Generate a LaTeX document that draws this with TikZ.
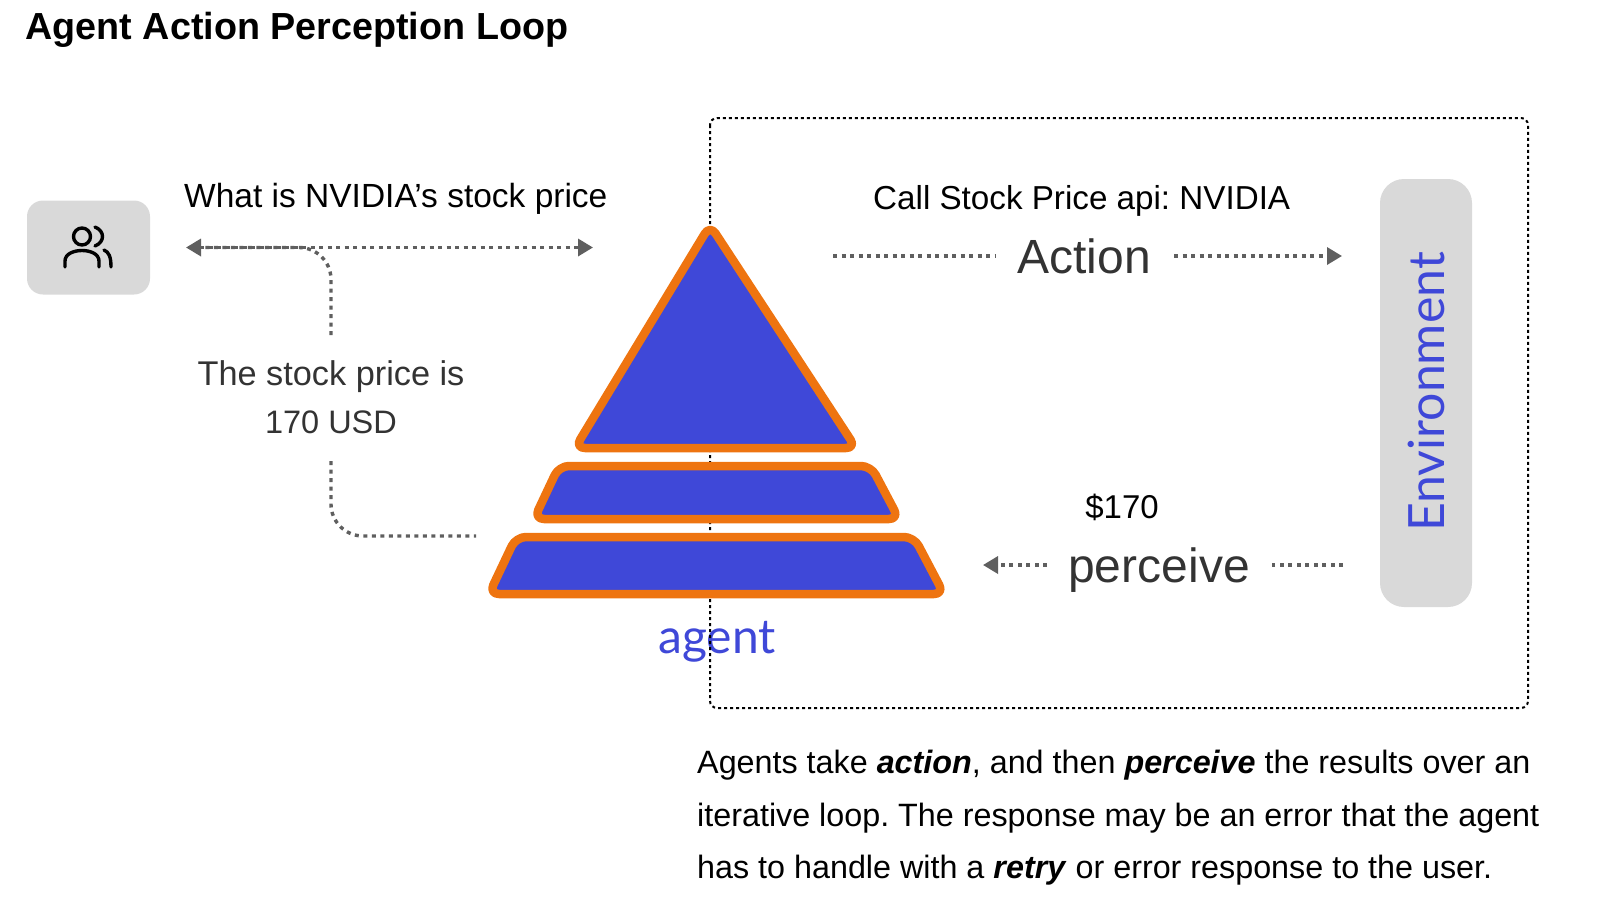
\documentclass[tikz,border=0pt]{standalone}
\usepackage{fontspec}
\setmainfont{Liberation Sans}
\newfontfamily\brandfont{Lato}
\usetikzlibrary{arrows.meta}
\definecolor{agentblue}{HTML}{3F48D8}
\definecolor{agentorange}{HTML}{EE7410}
\definecolor{boxgray}{HTML}{D9D9D9}
\definecolor{flowgray}{HTML}{5F5F5F}
\definecolor{textgray}{HTML}{333333}
\tikzset{
  layer/.style={draw=agentorange,fill=agentblue,line width=8.5pt,rounded corners=10pt,line join=round},
  flow/.style={draw=flowgray,line width=3.4pt,dash pattern=on 4pt off 4.5pt},
  tip/.style={-{Triangle[length=15pt,width=17pt]}},
  twotip/.style={{Triangle[length=15pt,width=17pt]}-{Triangle[length=15pt,width=17pt]}},
  txt/.style={inner sep=0pt,anchor=base west},
  mid/.style={inner sep=0pt,anchor=base},
  panel/.style={fill=boxgray,draw=none},
}
\newcommand{\fsz}[1]{\fontsize{#1}{#1}\selectfont}
\begin{document}
\frenchspacing
\begin{tikzpicture}[x=1pt,y=-1pt]
\useasboundingbox (0,0) rectangle (1600,900);
% title
\node[txt,font=\fsz{37.7}\bfseries] (title) at (25.5,39) {Agent Action Perception Loop};
% user
\node[panel,rounded corners=16pt,minimum width=123pt,minimum height=94pt] (user) at (88.5,247.5) {};
\begin{scope}[black,line width=3.4pt,line cap=round]
\draw (82,236.5) circle (8.5);
\draw (95,227) .. controls (105,231) and (105,242) .. (95,246);
\draw (65,267) -- (65,261) .. controls (65,247) and (99,247) .. (99,261) -- (99,267);
\draw (104,250) .. controls (109,252) and (111,257) .. (111,267);
\end{scope}
% agent label and environment frame
\node[mid,font=\brandfont\fsz{48},text=agentblue] (agent) at (717,653) {agent};
\draw[black,line width=2pt,dash pattern=on 3pt off 3pt,rounded corners=7pt] (710,118) rectangle (1528,708);
% agent layers
\coordinate (apex) at (710,225);
\coordinate (topL) at (575,448);
\coordinate (topR) at (856,448);
\draw[layer] (apex)--(topR)--(topL)--cycle;
\coordinate (midA) at (559,466);
\coordinate (midB) at (871,466);
\coordinate (midC) at (899,519);
\coordinate (midD) at (534,519);
\draw[layer] (midA)--(midB)--(midC)--(midD)--cycle;
\coordinate (lowA) at (516,537);
\coordinate (lowB) at (914,537);
\coordinate (lowC) at (944,594);
\coordinate (lowD) at (489,594);
\draw[layer] (lowA)--(lowB)--(lowC)--(lowD)--cycle;
% environment
\node[panel,rounded corners=24pt,minimum width=92pt,minimum height=428pt] (env) at (1426,393) {};
\node[font=\brandfont\fsz{50},text=agentblue,rotate=90,inner sep=0pt] (envtext) at (1426,392) {Environment};
% question
\node[txt,font=\fsz{33.5}] (ask) at (184,207) {What is NVIDIA’s stock price};
\coordinate (askL) at (186,247.5);
\coordinate (askR) at (593,247.5);
\draw[flow,twotip] (askL)--(askR);
% answer
\node[mid,font=\fsz{34.3},text=textgray] (ans1) at (331,385) {The stock price is};
\node[mid,font=\fsz{32.5},text=textgray] (ans2) at (331,433) {170 USD};
\coordinate (ansUp) at (331,335);
\coordinate (ansHit) at (205,247.5);
\coordinate (ansDown) at (331,461);
\coordinate (ansEnd) at (476,536);
\draw[flow,rounded corners=32pt] (ansUp)--(ansUp|-ansHit)--(ansHit);
\draw[flow,rounded corners=32pt] (ansDown)--(ansDown|-ansEnd)--(ansEnd);
% action
\node[txt,font=\fsz{33.2}] (call) at (873,209) {Call Stock Price api: NVIDIA};
\node[mid,font=\fsz{48},text=textgray] (action) at (1084,273) {Action};
\coordinate (actA) at (833,256);
\coordinate (actB) at (996,256);
\coordinate (actC) at (1174,256);
\coordinate (actD) at (1342,256);
\draw[flow] (actA)--(actB);
\draw[flow,tip] (actC)--(actD);
% perceive
\node[mid,font=\fsz{33},text=black] (price) at (1122,518) {\$170};
\node[mid,font=\fsz{48},text=textgray] (perceive) at (1159,582) {perceive};
\coordinate (perA) at (1343,565);
\coordinate (perB) at (1272,565);
\coordinate (perC) at (1047,565);
\coordinate (perD) at (983,565);
\draw[flow] (perA)--(perB);
\draw[flow,tip] (perC)--(perD);
% caption
\node[txt,font=\fsz{32.3}] (cap1) at (697,773.5) {Agents take \textbf{\textit{action}}, and then \textbf{\textit{perceive}} the results over an};
\node[txt,font=\fsz{32.3}] (cap2) at (697,826) {iterative loop. The response may be an error that the agent};
\node[txt,font=\fsz{32.3}] (cap3) at (697,878) {has to handle with a \textbf{\textit{retry}} or error response to the user.};
\end{tikzpicture}
\end{document}
